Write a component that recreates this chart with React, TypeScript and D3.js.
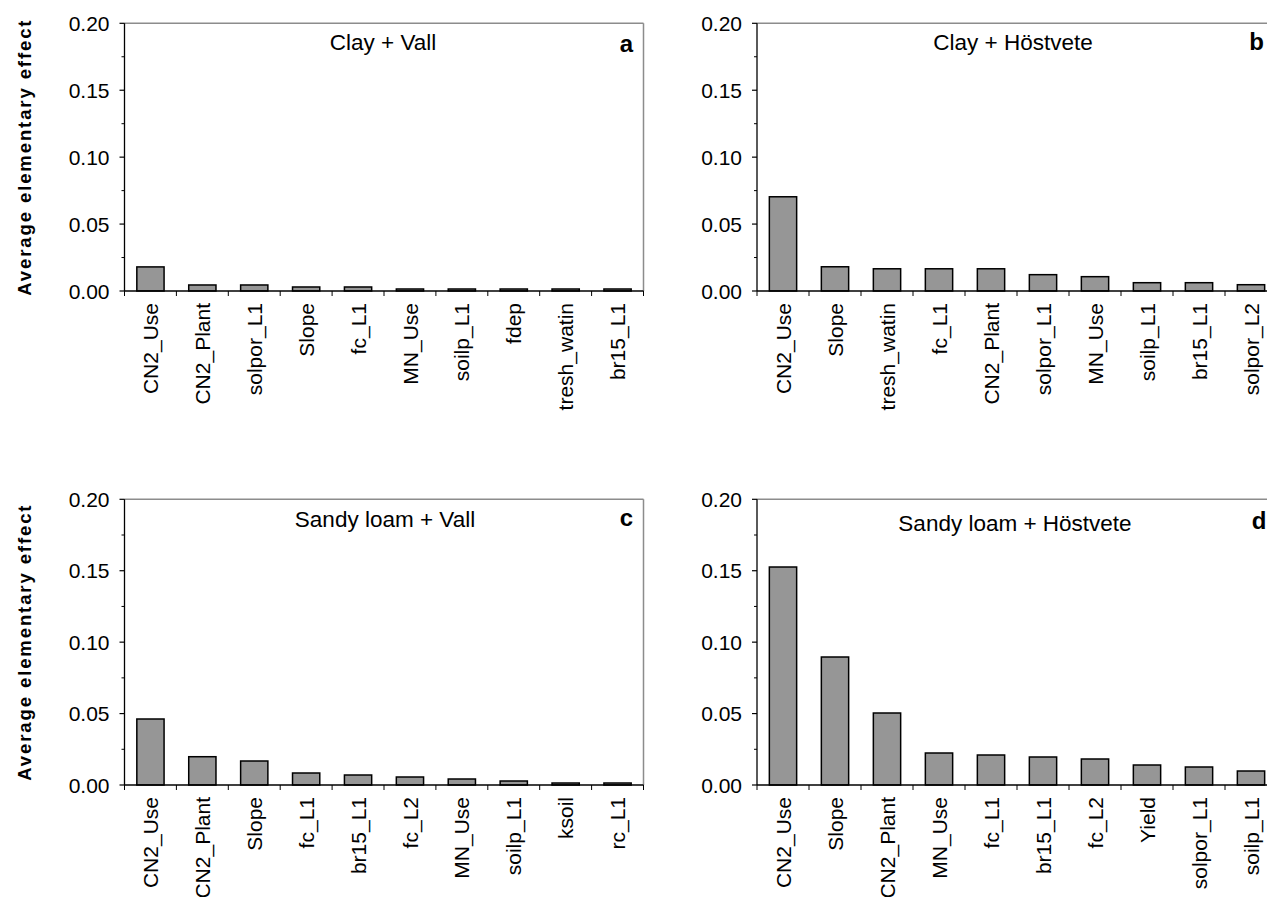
import React from "react";
import * as d3 from "d3";

// Ranked parameters and their average elementary effects, one set per soil/crop case
const clayVallCategories = ["CN2_Use", "CN2_Plant", "solpor_L1", "Slope", "fc_L1", "MN_Use", "soilp_L1", "fdep", "tresh_watin", "br15_L1"];
const clayVallValues = [0.018, 0.0045, 0.0045, 0.003, 0.003, 0.0015, 0.0015, 0.0015, 0.0015, 0.0015];

const clayHostveteCategories = ["CN2_Use", "Slope", "tresh_watin", "fc_L1", "CN2_Plant", "solpor_L1", "MN_Use", "soilp_L1", "br15_L1", "solpor_L2"];
const clayHostveteValues = [0.0704, 0.0181, 0.0166, 0.0166, 0.0166, 0.0122, 0.0107, 0.0062, 0.0062, 0.0047];

const sandyVallCategories = ["CN2_Use", "CN2_Plant", "Slope", "fc_L1", "br15_L1", "fc_L2", "MN_Use", "soilp_L1", "ksoil", "rc_L1"];
const sandyVallValues = [0.0462, 0.0198, 0.0168, 0.0084, 0.007, 0.0056, 0.0042, 0.0028, 0.0014, 0.0014];

const sandyHostveteCategories = ["CN2_Use", "Slope", "CN2_Plant", "MN_Use", "fc_L1", "br15_L1", "fc_L2", "Yield", "solpor_L1", "soilp_L1"];
const sandyHostveteValues = [0.1526, 0.0896, 0.0504, 0.0224, 0.021, 0.0196, 0.0182, 0.014, 0.0126, 0.0098];

const yMajorTicks = [0, 0.05, 0.1, 0.15, 0.2];
const yMinorTicks = [0.025, 0.075, 0.125, 0.175];
const yAxisTitle = "Average elementary effect";

const FONT = "'Liberation Sans', Arial, Helvetica, sans-serif";
const BAR_FILL = "#969696";
const FRAME_GRAY = "#8c8c8c";

type PanelProps = {
  categories: string[];
  values: number[];
  title: string;
  letter: string;
  left: number;
  right: number;
  top: number;
  bottom: number;
  titleX: number;
  titleY: number;
  letterX: number;
  letterY: number;
  yLabelX: number | null;
};

function Panel(p: PanelProps) {
  const x = d3
    .scaleBand<string>()
    .domain(p.categories)
    .range([p.left, p.right])
    .paddingInner(0.475)
    .paddingOuter(0.2375);
  const y = d3.scaleLinear().domain([0, 0.2]).range([p.bottom, p.top]);
  const step = x.step();
  const boundaries = p.categories.map((c) => (x(c) as number) - (step * x.paddingInner()) / 2);
  boundaries.push(p.right);
  const fmt = d3.format(".2f");

  return (
    <g>
      {/* frame: gray top and right */}
      <line x1={p.left} x2={p.right} y1={p.top} y2={p.top} stroke={FRAME_GRAY} strokeWidth={1.5} />
      <line x1={p.right} x2={p.right} y1={p.top} y2={p.bottom} stroke={FRAME_GRAY} strokeWidth={1.5} />

      {/* bars */}
      {p.categories.map((c, i) => (
        <rect
          key={c + i}
          x={x(c)}
          y={y(p.values[i])}
          width={x.bandwidth()}
          height={p.bottom - y(p.values[i])}
          fill={BAR_FILL}
          stroke="#000"
          strokeWidth={1.5}
        />
      ))}

      {/* y axis */}
      <line x1={p.left} x2={p.left} y1={p.top} y2={p.bottom} stroke="#000" strokeWidth={1.3} />
      {yMajorTicks.map((t) => (
        <g key={"M" + t}>
          <line x1={p.left - 5} x2={p.left} y1={y(t)} y2={y(t)} stroke="#000" strokeWidth={1.2} />
          <text
            x={p.left - 15}
            y={y(t)}
            dy="0.36em"
            textAnchor="end"
            fontFamily={FONT}
            fontSize={21}
            fill="#000"
          >
            {fmt(t)}
          </text>
        </g>
      ))}
      {yMinorTicks.map((t) => (
        <line key={"m" + t} x1={p.left - 3} x2={p.left} y1={y(t)} y2={y(t)} stroke="#000" strokeWidth={1} />
      ))}

      {/* x axis */}
      <line x1={p.left} x2={p.right} y1={p.bottom} y2={p.bottom} stroke="#000" strokeWidth={1.3} />
      {boundaries.map((bx, i) => (
        <line key={"xt" + i} x1={bx} x2={bx} y1={p.bottom} y2={p.bottom + 5} stroke="#000" strokeWidth={1} />
      ))}
      {p.categories.map((c, i) => {
        const cx = (x(c) as number) + x.bandwidth() / 2;
        const ty = p.bottom + 12;
        return (
          <text
            key={"xl" + i}
            transform={`translate(${cx},${ty}) rotate(-90)`}
            dy="0.36em"
            textAnchor="end"
            fontFamily={FONT}
            fontSize={21}
            fill="#000"
          >
            {c}
          </text>
        );
      })}

      {/* title and panel letter */}
      <text x={p.titleX} y={p.titleY} textAnchor="middle" fontFamily={FONT} fontSize={22.5} fill="#000">
        {p.title}
      </text>
      <text x={p.letterX} y={p.letterY} textAnchor="end" fontFamily={FONT} fontSize={24} fontWeight="bold" fill="#000">
        {p.letter}
      </text>

      {p.yLabelX !== null && (
        <text
          transform={`translate(${p.yLabelX},${(p.top + p.bottom) / 2}) rotate(-90)`}
          textAnchor="middle"
          fontFamily={FONT}
          fontSize={18.5}
          fontWeight="bold"
          letterSpacing={1.9}
          fill="#000"
        >
          {yAxisTitle}
        </text>
      )}
    </g>
  );
}

export default function App() {
  const W = 1267;
  const H = 897;
  return (
    <svg
      width={W}
      height={H}
      viewBox={`0 0 ${W} ${H}`}
      style={{ position: "absolute", left: 0, top: 0, background: "#fff", overflow: "hidden" }}
    >
      <rect x={0} y={0} width={W} height={H} fill="#fff" />
      <Panel
        categories={clayVallCategories}
        values={clayVallValues}
        title="Clay + Vall"
        letter="a"
        left={124.5}
        right={643.5}
        top={23.3}
        bottom={291}
        titleX={383}
        titleY={49.5}
        letterX={633}
        letterY={52}
        yLabelX={30.5}
      />
      <Panel
        categories={clayHostveteCategories}
        values={clayHostveteValues}
        title="Clay + Höstvete"
        letter="b"
        left={757}
        right={1277}
        top={23.3}
        bottom={291}
        titleX={1013}
        titleY={49.5}
        letterX={1264}
        letterY={50}
        yLabelX={null}
      />
      <Panel
        categories={sandyVallCategories}
        values={sandyVallValues}
        title="Sandy loam + Vall"
        letter="c"
        left={124.5}
        right={643.5}
        top={499.3}
        bottom={785}
        titleX={385}
        titleY={527}
        letterX={633}
        letterY={525.5}
        yLabelX={30.5}
      />
      <Panel
        categories={sandyHostveteCategories}
        values={sandyHostveteValues}
        title="Sandy loam + Höstvete"
        letter="d"
        left={757}
        right={1277}
        top={499.3}
        bottom={785}
        titleX={1015}
        titleY={531}
        letterX={1266.5}
        letterY={529}
        yLabelX={null}
      />
    </svg>
  );
}
